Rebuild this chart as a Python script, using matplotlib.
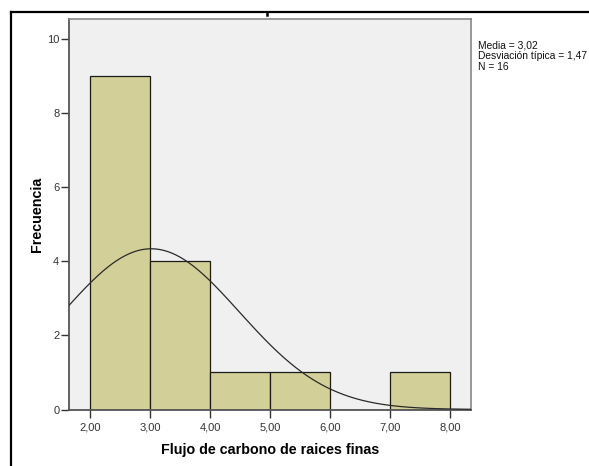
import matplotlib
matplotlib.use("Agg")
import matplotlib.pyplot as plt
import numpy as np
from matplotlib.lines import Line2D

plt.rcParams['font.family'] = ['Liberation Sans', 'DejaVu Sans']

bin_edges = [2.0, 3.0, 4.0, 5.0, 6.0, 7.0, 8.0]
counts = [9, 4, 1, 1, 0, 1]
mean_val = 3.02
sd_val = 1.47
n_val = 16
xticks = [2, 3, 4, 5, 6, 7, 8]
xtick_labels = ["2,00", "3,00", "4,00", "5,00", "6,00", "7,00", "8,00"]
yticks = [0, 2, 4, 6, 8, 10]

W, H = 589, 466
fig = plt.figure(figsize=(W / 100, H / 100), dpi=100)
fig.patch.set_facecolor('white')

# outer frame lines (left and top)
fig.add_artist(Line2D([10.5 / W, 10.5 / W], [0, 1 - 12 / H], color='black', lw=1.6, transform=fig.transFigure))
fig.add_artist(Line2D([10.5 / W, 1], [1 - 12 / H, 1 - 12 / H], color='black', lw=1.6, transform=fig.transFigure))
fig.add_artist(Line2D([267 / W, 267 / W], [1 - 12 / H, 1 - 15 / H], color='black', lw=1.8, transform=fig.transFigure))

ax = fig.add_axes([69 / W, (H - 409.5) / H, 402 / W, 390.5 / H])
ax.set_facecolor('#F0F0F0')

widths = np.diff(bin_edges)
ax.bar(bin_edges[:-1], counts, width=widths, align='edge', color='#D3CF98',
       edgecolor='#1a1a1a', linewidth=0.9, zorder=2)

xs = np.linspace(1.65, 8.35, 400)
bw = 1.0
ys = n_val * bw / (sd_val * np.sqrt(2 * np.pi)) * np.exp(-0.5 * ((xs - mean_val) / sd_val) ** 2)
ax.plot(xs, ys, color='#2a2a2a', lw=0.9, zorder=3)

ax.set_xlim(1.65, 8.35)
ax.set_ylim(0, 10.55)
ax.set_xticks(xticks)
ax.set_xticklabels(xtick_labels)
ax.set_yticks(yticks)
ax.tick_params(axis='both', direction='out', length=6, width=1, color='#333333',
               labelsize=8, labelcolor='#333333', pad=1)
ax.tick_params(axis='x', pad=3)

for side in ['top', 'right']:
    ax.spines[side].set_color('#888888')
    ax.spines[side].set_linewidth(1.2)
for side in ['left', 'bottom']:
    ax.spines[side].set_color('#555555')
    ax.spines[side].set_linewidth(1.3)

ax.set_ylabel('Frecuencia', fontsize=10.3, fontweight='bold', labelpad=2)
ax.set_xlabel('Flujo de carbono de raices finas', fontsize=10.3, fontweight='bold', labelpad=8)

fig.text(478 / W, 1 - 40 / H,
         'Media = 3,02\nDesviación típica = 1,47\nN = 16',
         fontsize=7.4, va='top', ha='left', linespacing=1.1, color='#111111')

fig.savefig('out.png', dpi=100)
